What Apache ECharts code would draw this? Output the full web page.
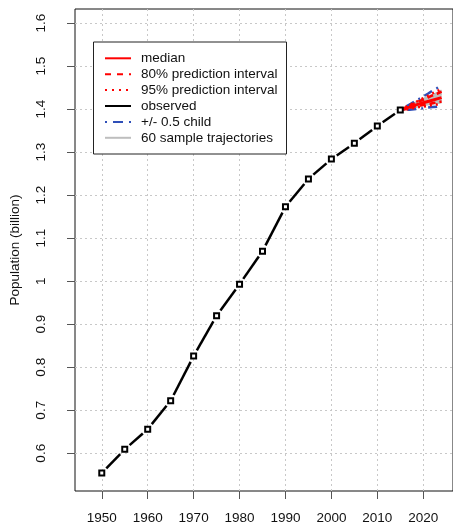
<!DOCTYPE html>
<html>
<head>
<meta charset="utf-8">
<script src="https://cdn.jsdelivr.net/npm/echarts@6/dist/echarts.min.js"></script>
<style>
html,body{margin:0;padding:0;background:#fff;}
#chart{width:453px;height:525px;}
</style>
</head>
<body>
<div id="chart"></div>
<script>
// ---- data ----
var obsYears = [1950,1955,1960,1965,1970,1975,1980,1985,1990,1995,2000,2005,2010,2015];
var obsValues = [0.554,0.609,0.656,0.722,0.826,0.920,0.993,1.070,1.173,1.238,1.284,1.321,1.361,1.398];

var projYears = [2015,2016,2017,2018,2019,2020,2021,2022,2023,2024];
var median   = [1.398,1.402,1.405,1.409,1.412,1.415,1.418,1.421,1.424,1.427];
var pi80Up   = [1.398,1.403,1.408,1.413,1.418,1.422,1.427,1.432,1.436,1.441];
var pi80Low  = [1.398,1.400,1.403,1.406,1.408,1.410,1.412,1.414,1.416,1.418];
var pi95Up   = [1.398,1.404,1.410,1.415,1.420,1.426,1.431,1.437,1.442,1.447];
var pi95Low  = [1.398,1.399,1.401,1.403,1.405,1.406,1.408,1.410,1.411,1.413];
var halfUp   = [1.398,1.405,1.411,1.417,1.423,1.430,1.436,1.443,1.449,1.456];
var halfLow  = [1.398,1.398,1.399,1.400,1.401,1.402,1.404,1.405,1.406,1.408];

var traj1 = [1.398,1.401,1.406,1.410,1.414,1.417,1.421,1.425,1.428,1.432];
var traj2 = [1.398,1.402,1.404,1.407,1.409,1.413,1.415,1.417,1.420,1.422];
var traj3 = [1.398,1.403,1.408,1.412,1.417,1.421,1.426,1.430,1.435,1.439];
var traj4 = [1.398,1.400,1.403,1.405,1.408,1.411,1.413,1.415,1.418,1.420];
var traj5 = [1.398,1.403,1.407,1.411,1.414,1.419,1.423,1.428,1.431,1.436];
var traj6 = [1.398,1.401,1.404,1.408,1.411,1.414,1.417,1.419,1.423,1.425];
var traj7 = [1.398,1.404,1.409,1.414,1.419,1.424,1.429,1.433,1.438,1.444];
var traj8 = [1.398,1.400,1.402,1.404,1.407,1.409,1.411,1.413,1.414,1.416];
var trajectories = [traj1,traj2,traj3,traj4,traj5,traj6,traj7,traj8];

var xTicks = [1950,1960,1970,1980,1990,2000,2010,2020];
var yTicks = [0.6,0.7,0.8,0.9,1.0,1.1,1.2,1.3,1.4,1.5,1.6];
var yTickLabels = ['0.6','0.7','0.8','0.9','1','1.1','1.2','1.3','1.4','1.5','1.6'];

var legendLabels = ['median','80% prediction interval','95% prediction interval','observed','+/- 0.5 child','60 sample trajectories'];

// ---- build ----
function pairs(xs, ys){ return xs.map(function(x,i){ return [x, ys[i]]; }); }

var FONT = 'Liberation Sans, Arial, sans-serif';
var FS = 13.5;
var RED = '#ff0000', BLUE = '#2f4fb8', GRAY = '#bebebe';

// observed segments between consecutive points (R type="b": gaps near points)
var obsSegments = [];
for (var i = 0; i < obsYears.length - 1; i++) {
  obsSegments.push([obsYears[i], obsValues[i], obsYears[i+1], obsValues[i+1]]);
}
var GAP = 6.5;

var series = [];
trajectories.forEach(function(t){
  series.push({type:'line', data:pairs(projYears,t), symbol:'none', silent:true, z:2,
    lineStyle:{color:GRAY, width:2}});
});
series.push({type:'custom', data:obsSegments, z:3, silent:true,
  encode:{x:[0,2], y:[1,3]},
  renderItem:function(params, api){
    var a = api.coord([api.value(0), api.value(1)]);
    var b = api.coord([api.value(2), api.value(3)]);
    var dx = b[0]-a[0], dy = b[1]-a[1];
    var len = Math.sqrt(dx*dx+dy*dy);
    if (len <= 2*GAP) return null;
    var ux = dx/len, uy = dy/len;
    return {type:'line',
      shape:{x1:a[0]+ux*GAP, y1:a[1]+uy*GAP, x2:b[0]-ux*GAP, y2:b[1]-uy*GAP},
      style:{stroke:'#000', lineWidth:2.5, fill:null}};
  }
});
series.push({type:'line', data:pairs(projYears,halfUp), symbol:'none', z:4,
  lineStyle:{color:BLUE, width:2.5, type:[2,5,9,5]}});
series.push({type:'line', data:pairs(projYears,halfLow), symbol:'none', z:4,
  lineStyle:{color:BLUE, width:2.5, type:[2,5,9,5]}});
series.push({type:'line', data:pairs(projYears,pi95Up), symbol:'none', z:5,
  lineStyle:{color:RED, width:2.5, type:[2,4]}});
series.push({type:'line', data:pairs(projYears,pi95Low), symbol:'none', z:5,
  lineStyle:{color:RED, width:2.5, type:[2,4]}});
series.push({type:'line', data:pairs(projYears,pi80Up), symbol:'none', z:5,
  lineStyle:{color:RED, width:2.5, type:[6,4]}});
series.push({type:'line', data:pairs(projYears,pi80Low), symbol:'none', z:5,
  lineStyle:{color:RED, width:2.5, type:[6,4]}});
series.push({type:'line', data:pairs(projYears,median), symbol:'none', z:5,
  lineStyle:{color:RED, width:3}});
series.push({type:'scatter', data:pairs(obsYears,obsValues), symbol:'rect', symbolSize:5, z:6,
  itemStyle:{color:'#fff', borderColor:'#000', borderWidth:2, opacity:1}});

// legend graphic
var lgX = 93, lgY = 41.5, rowY0 = 58.3, rowStep = 15.9;
var legendStyles = [
  {stroke:RED, lineDash:null, w:2},
  {stroke:RED, lineDash:[6,6], w:2},
  {stroke:RED, lineDash:[2,5], w:2},
  {stroke:'#000', lineDash:null, w:2},
  {stroke:BLUE, lineDash:[2,6,10,6], w:2},
  {stroke:GRAY, lineDash:null, w:2}
];
var graphics = [{type:'rect', shape:{x:lgX+0.5, y:lgY+0.5, width:193, height:112},
  style:{fill:'#fff', stroke:'#222', lineWidth:1}, z:100}];
legendLabels.forEach(function(lbl,i){
  var y = rowY0 + i*rowStep;
  var st = legendStyles[i];
  graphics.push({type:'line', shape:{x1:105, y1:y, x2:131, y2:y}, z:101,
    style:{stroke:st.stroke, lineWidth:st.w, lineDash:st.lineDash}});
  graphics.push({type:'text', x:141, y:y, z:101,
    style:{text:lbl, fill:'#111', font:FS + 'px ' + FONT, verticalAlign:'middle', align:'left'}});
});

var chart = echarts.init(document.getElementById('chart'), null, {renderer:'canvas'});
chart.setOption({
  animation:false,
  backgroundColor:'#fff',
  grid:{left:72, top:9, bottom:31, right:0, show:true, borderColor:'#111', borderWidth:1, backgroundColor:'transparent'},
  xAxis:{type:'value', min:1944.17, max:2026.48,
    axisLine:{show:false},
    axisTick:{show:true, length:8, lineStyle:{color:'#555'}, customValues:xTicks},
    axisLabel:{customValues:xTicks, margin:20, fontSize:FS, fontFamily:FONT, color:'#111',
      formatter:function(v){ return String(Math.round(v)); }},
    splitLine:{show:true, lineStyle:{color:'#c8c8c8', type:[2,3], width:1}}
  },
  yAxis:{type:'value', min:0.5122, max:1.6331,
    name:'Population (billion)', nameLocation:'middle', nameGap:53, nameRotate:90,
    nameTextStyle:{fontSize:FS, fontFamily:FONT, color:'#111'},
    axisLine:{show:false},
    axisTick:{show:true, length:8, lineStyle:{color:'#555'}, customValues:yTicks},
    axisLabel:{customValues:yTicks, rotate:90, margin:27, fontSize:FS, fontFamily:FONT, color:'#111',
      formatter:function(v){ var i = yTicks.findIndex(function(t){return Math.abs(t-v)<1e-6;}); return i>=0?yTickLabels[i]:''; }},
    splitLine:{show:true, lineStyle:{color:'#c8c8c8', type:[2,3], width:1}}
  },
  series:series,
  graphic:graphics
});
</script>
</body>
</html>
